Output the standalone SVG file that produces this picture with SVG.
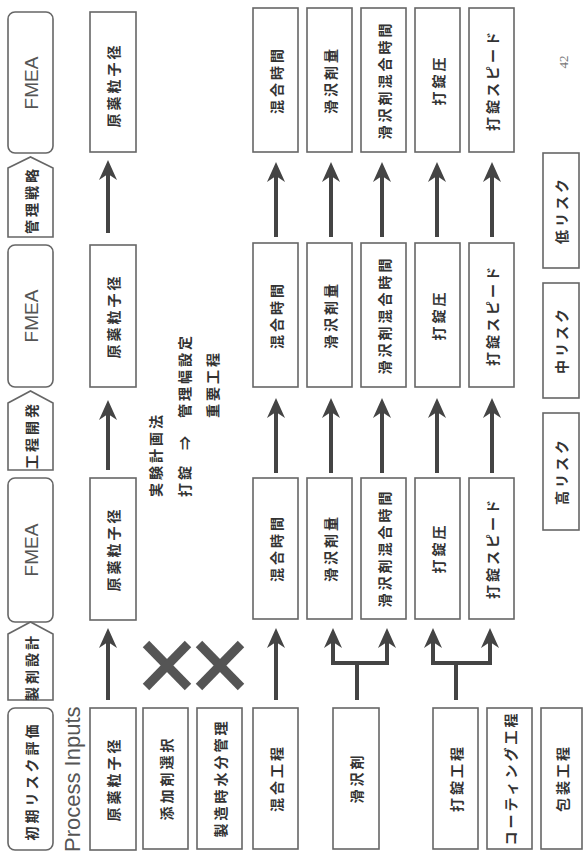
<svg xmlns="http://www.w3.org/2000/svg" width="583" height="853" viewBox="0 0 583 853">
<style>
.bx{fill:#fff;stroke:#666;stroke-width:1.6}
.t{font-family:"Noto Sans CJK JP","Noto Sans",sans-serif;font-weight:bold;font-size:14px;letter-spacing:3px;fill:#333;text-anchor:middle;dominant-baseline:central}
.f{font-family:"Liberation Sans",Arial,sans-serif;font-size:19px;fill:#555;text-anchor:middle;dominant-baseline:central}
.ar{fill:none;stroke:#444;stroke-width:4;marker-end:url(#ah)}
.fk{fill:none;stroke:#444;stroke-width:4;marker-start:url(#ah);marker-end:url(#ah)}
.ln{fill:none;stroke:#444;stroke-width:4}
.x{stroke:#555;stroke-width:9;stroke-linecap:butt}
</style>
<defs>
<marker id="ah" viewBox="0 0 20 18" markerWidth="20" markerHeight="18" refX="6" refY="9" orient="auto-start-reverse" markerUnits="userSpaceOnUse"><path d="M0,0 L20,9 L0,18 L6,9 Z" fill="#444"/></marker>
</defs>
<rect width="583" height="853" fill="#fff"/>

<g id="header">
<g id="fmea3"><rect class="bx" x="8" y="12" width="45" height="141" rx="7"/><text class="f" transform="translate(31,83) rotate(-90)">FMEA</text></g>
<g id="kanri"><path class="bx" d="M8,168 L30.5,157 L53,168 V237 H8 Z"/><text class="t" transform="translate(31,200) rotate(-90)">管理戦略</text></g>
<g id="fmea2"><rect class="bx" x="8" y="245" width="45" height="142" rx="7"/><text class="f" transform="translate(31,316) rotate(-90)">FMEA</text></g>
<g id="kotei"><path class="bx" d="M8,403 L30.5,391 L53,403 V470 H8 Z"/><text class="t" transform="translate(31,435) rotate(-90)">工程開発</text></g>
<g id="fmea1"><rect class="bx" x="8" y="478" width="45" height="144" rx="7"/><text class="f" transform="translate(31,550) rotate(-90)">FMEA</text></g>
<g id="seizai"><path class="bx" d="M8,634 L30.5,622 L53,634 V700 H8 Z"/><text class="t" transform="translate(31,667) rotate(-90)">製剤設計</text></g>
<g id="shoki"><rect class="bx" x="8" y="708" width="45" height="142" rx="7"/><text class="t" transform="translate(31,781) rotate(-90)">初期リスク評価</text></g>
</g>

<text id="pi" transform="translate(80,852) rotate(-90)" style="font-family:'Liberation Sans',Arial,sans-serif;font-size:22px;fill:#555">Process Inputs</text>

<g id="inputs">
<g id="in1"><rect class="bx" x="90" y="708" width="46" height="142"/><text class="t" transform="translate(113,779) rotate(-90)">原薬粒子径</text></g>
<g id="in2"><rect class="bx" x="143" y="708" width="45" height="141"/><text class="t" transform="translate(166,778) rotate(-90)">添加剤選択</text></g>
<g id="in3"><rect class="bx" x="197" y="708" width="45" height="141"/><text class="t" transform="translate(220,778) rotate(-90)">製造時水分管理</text></g>
<g id="in4"><rect class="bx" x="253" y="708" width="45" height="141"/><text class="t" transform="translate(276,778) rotate(-90)">混合工程</text></g>
<g id="in5"><rect class="bx" x="333" y="708" width="46" height="141"/><text class="t" transform="translate(356,778) rotate(-90)">滑沢剤</text></g>
<g id="in6"><rect class="bx" x="433" y="708" width="45" height="141"/><text class="t" transform="translate(456,778) rotate(-90)">打錠工程</text></g>
<g id="in7"><rect class="bx" x="487" y="708" width="45" height="141"/><text class="t" transform="translate(510,778) rotate(-90)">コーティング工程</text></g>
<g id="in8"><rect class="bx" x="541" y="708" width="41" height="141"/><text class="t" transform="translate(562,778) rotate(-90)">包装工程</text></g>
</g>

<g id="row1">
<g id="r1a"><rect class="bx" x="90" y="478" width="46" height="142"/><text class="t" transform="translate(113,549) rotate(-90)">原薬粒子径</text></g>
<g id="r1b"><rect class="bx" x="253" y="478" width="45" height="141"/><text class="t" transform="translate(276,548) rotate(-90)">混合時間</text></g>
<g id="r1c"><rect class="bx" x="307" y="478" width="45" height="141"/><text class="t" transform="translate(330,548) rotate(-90)">滑沢剤量</text></g>
<g id="r1d"><rect class="bx" x="361" y="478" width="45" height="141"/><text class="t" transform="translate(384,548) rotate(-90)">滑沢剤混合時間</text></g>
<g id="r1e"><rect class="bx" x="415" y="478" width="45" height="141"/><text class="t" transform="translate(438,548) rotate(-90)">打錠圧</text></g>
<g id="r1f"><rect class="bx" x="469" y="478" width="45" height="141"/><text class="t" transform="translate(492,548) rotate(-90)">打錠スピード</text></g>
</g>

<g id="row2">
<g id="r2a"><rect class="bx" x="90" y="245" width="46" height="142"/><text class="t" transform="translate(113,316) rotate(-90)">原薬粒子径</text></g>
<g id="r2b"><rect class="bx" x="253" y="243" width="45" height="144"/><text class="t" transform="translate(276,315) rotate(-90)">混合時間</text></g>
<g id="r2c"><rect class="bx" x="307" y="243" width="45" height="144"/><text class="t" transform="translate(330,315) rotate(-90)">滑沢剤量</text></g>
<g id="r2d"><rect class="bx" x="361" y="243" width="45" height="144"/><text class="t" transform="translate(384,315) rotate(-90)">滑沢剤混合時間</text></g>
<g id="r2e"><rect class="bx" x="415" y="243" width="45" height="144"/><text class="t" transform="translate(438,315) rotate(-90)">打錠圧</text></g>
<g id="r2f"><rect class="bx" x="469" y="243" width="45" height="144"/><text class="t" transform="translate(492,315) rotate(-90)">打錠スピード</text></g>
</g>

<g id="row3">
<g id="r3a"><rect class="bx" x="90" y="12" width="46" height="140"/><text class="t" transform="translate(113,85) rotate(-90)">原薬粒子径</text></g>
<g id="r3b"><rect class="bx" x="253" y="8" width="45" height="144"/><text class="t" transform="translate(276,80) rotate(-90)">混合時間</text></g>
<g id="r3c"><rect class="bx" x="307" y="8" width="45" height="144"/><text class="t" transform="translate(330,80) rotate(-90)">滑沢剤量</text></g>
<g id="r3d"><rect class="bx" x="361" y="8" width="45" height="144"/><text class="t" transform="translate(384,80) rotate(-90)">滑沢剤混合時間</text></g>
<g id="r3e"><rect class="bx" x="415" y="8" width="45" height="144"/><text class="t" transform="translate(438,80) rotate(-90)">打錠圧</text></g>
<g id="r3f"><rect class="bx" x="469" y="8" width="45" height="144"/><text class="t" transform="translate(492,80) rotate(-90)">打錠スピード</text></g>
</g>

<g id="legend">
<g id="low"><rect class="bx" x="543" y="153" width="36" height="115"/><text class="t" transform="translate(561,210) rotate(-90)">低リスク</text></g>
<g id="mid"><rect class="bx" x="543" y="283" width="36" height="115"/><text class="t" transform="translate(561,340) rotate(-90)">中リスク</text></g>
<g id="high"><rect class="bx" x="543" y="413" width="36" height="117"/><text class="t" transform="translate(561,471) rotate(-90)">高リスク</text></g>
</g>

<g id="notes">
<text class="t" style="text-anchor:start" transform="translate(155,497) rotate(-90)">実験計画法</text>
<text class="t" style="text-anchor:start" transform="translate(184,497) rotate(-90)">打錠<tspan x="47">⇒</tspan><tspan x="79">管理幅設定</tspan></text>
<text class="t" style="text-anchor:start" transform="translate(212,418) rotate(-90)">重要工程</text>
<text transform="translate(563,62) rotate(-90)" style="font-family:'Liberation Serif',serif;font-size:13px;fill:#777;text-anchor:middle;dominant-baseline:central">42</text>
</g>

<g id="connectors">
<line class="ar" x1="108" y1="700" x2="108" y2="642"/>
<line class="ar" x1="108" y1="470" x2="108" y2="414"/>
<line class="ar" x1="108" y1="233" x2="108" y2="174"/>
<line class="ar" x1="276" y1="700" x2="276" y2="642"/>
<line class="ar" x1="276" y1="473" x2="276" y2="412"/>
<line class="ar" x1="331" y1="473" x2="331" y2="412"/>
<line class="ar" x1="382" y1="473" x2="382" y2="412"/>
<line class="ar" x1="437" y1="473" x2="437" y2="412"/>
<line class="ar" x1="492" y1="473" x2="492" y2="412"/>
<line class="ar" x1="276" y1="237" x2="276" y2="176"/>
<line class="ar" x1="331" y1="237" x2="331" y2="176"/>
<line class="ar" x1="382" y1="237" x2="382" y2="176"/>
<line class="ar" x1="437" y1="237" x2="437" y2="176"/>
<line class="ar" x1="492" y1="237" x2="492" y2="176"/>
<path class="fk" d="M333,642 V663 H387 V642"/>
<path class="ln" d="M357,700 V663"/>
<path class="fk" d="M433,642 V663 H490 V642"/>
<path class="ln" d="M456,700 V663"/>
<line class="x" x1="146" y1="644" x2="188" y2="687"/>
<line class="x" x1="188" y1="644" x2="146" y2="687"/>
<line class="x" x1="199" y1="644" x2="241" y2="687"/>
<line class="x" x1="241" y1="644" x2="199" y2="687"/>
</g>
</svg>
